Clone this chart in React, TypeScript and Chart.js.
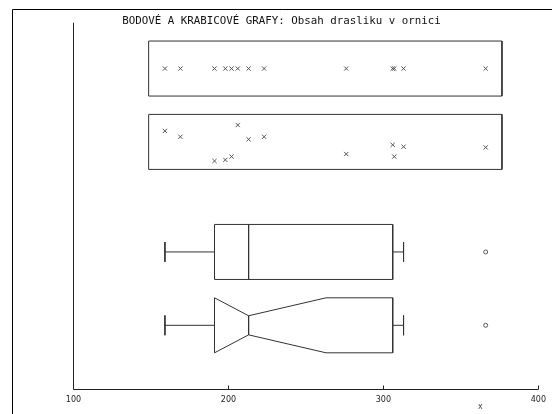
import { useEffect, useRef } from "react";
import { Chart, registerables } from "chart.js";

Chart.register(...registerables);

// ---- data ----
const TITLE = "BODOVÉ A KRABICOVÉ GRAFY: Obsah drasliku v ornici";
const AXIS_TITLE = "x";
const X_TICKS = [100, 200, 300, 400];
const potassium = [159, 169, 191, 198, 202, 206, 213, 223, 276, 306, 307, 313, 366];
const jitterY = [2.95, 3.11, 3.77, 3.74, 3.65, 2.79, 3.18, 3.11, 3.58, 3.33, 3.65, 3.38, 3.4];
const rowY = [1.25, 3.25, 6.25, 8.25];
const stripFrame = [148.5, 376.5];
// low whisker, Q1, median, Q3, high whisker
const boxStats = [159, 191, 213, 306, 313];
const outliers = [366];
// notch low (clipped at Q1), notch high
const notch = [191, 263];

const LINE = "#333333";
const MARK = "#555555";
const HALF = 0.75;
const CAP = 0.27;
const NOTCH_HALF = 0.26;

type P = [number, number];

const seg = (pts: P[]) => ({
  type: "line" as const,
  data: pts.map(([x, y]) => ({ x, y })),
  borderColor: LINE,
  borderWidth: 1,
  pointRadius: 0,
  pointHoverRadius: 0,
  fill: false,
  tension: 0,
});

const marks = (pts: P[], style: string, r: number) => ({
  type: "line" as const,
  data: pts.map(([x, y]) => ({ x, y })),
  showLine: false,
  pointStyle: style,
  pointRadius: r,
  pointHoverRadius: r,
  pointBorderColor: MARK,
  pointBackgroundColor: "rgba(0,0,0,0)",
  pointBorderWidth: 1,
  borderColor: MARK,
  backgroundColor: "rgba(0,0,0,0)",
});

const rect = (x0: number, x1: number, yc: number, h: number): P[] => [
  [x0, yc - h],
  [x1, yc - h],
  [x1, yc + h],
  [x0, yc + h],
  [x0, yc - h],
];

function boxDatasets(yc: number, notched: boolean) {
  const [lo, q1, med, q3, hi] = boxStats;
  const ds: any[] = [];
  if (notched) {
    const [nLo, nHi] = notch;
    ds.push(
      seg([
        [q1, yc - HALF],
        [nLo, yc - HALF],
        [med, yc - NOTCH_HALF],
        [nHi, yc - HALF],
        [q3, yc - HALF],
        [q3, yc + HALF],
        [nHi, yc + HALF],
        [med, yc + NOTCH_HALF],
        [nLo, yc + HALF],
        [q1, yc + HALF],
        [q1, yc - HALF],
      ])
    );
    ds.push(seg([[med, yc - NOTCH_HALF], [med, yc + NOTCH_HALF]]));
  } else {
    ds.push(seg(rect(q1, q3, yc, HALF)));
    ds.push(seg([[med, yc - HALF], [med, yc + HALF]]));
  }
  ds.push(seg([[lo, yc], [q1, yc]]));
  ds.push(seg([[q3, yc], [hi, yc]]));
  ds.push(seg([[lo, yc - CAP], [lo, yc + CAP]]));
  ds.push(seg([[hi, yc - CAP], [hi, yc + CAP]]));
  ds.push(marks(outliers.map((v) => [v, yc] as P), "circle", 2));
  return ds;
}

const decorPlugin = {
  id: "decor",
  afterDraw(chart: any) {
    const { ctx, chartArea: a, scales } = chart;
    const xs = scales.x;
    ctx.save();
    // outer frame (left + top)
    ctx.strokeStyle = "#000";
    ctx.lineWidth = 1;
    ctx.beginPath();
    ctx.moveTo(12.5, chart.height);
    ctx.lineTo(12.5, 9.5);
    ctx.lineTo(chart.width, 9.5);
    ctx.stroke();
    // axes
    ctx.strokeStyle = "#222";
    ctx.beginPath();
    ctx.moveTo(a.left, a.top);
    ctx.lineTo(a.left, a.bottom);
    ctx.lineTo(a.right, a.bottom);
    ctx.stroke();
    // inward ticks
    ctx.beginPath();
    for (const v of X_TICKS) {
      const px = Math.round(xs.getPixelForValue(v) - 0.5) + 0.5;
      ctx.moveTo(px, a.bottom);
      ctx.lineTo(px, a.bottom - 4);
    }
    ctx.stroke();
    // title
    ctx.fillStyle = "#111";
    ctx.font = "10.8px 'DejaVu Sans Mono'";
    ctx.textAlign = "center";
    ctx.textBaseline = "alphabetic";
    ctx.fillText(TITLE, 281.5, 24);
    // axis variable name
    ctx.fillStyle = "#444";
    ctx.font = "8px 'DejaVu Sans'";
    ctx.textBaseline = "middle";
    ctx.fillText(AXIS_TITLE, a.right - 58, 407);
    ctx.restore();
  },
};

export default function App() {
  const ref = useRef<HTMLCanvasElement | null>(null);

  useEffect(() => {
    if (!ref.current) return;
    const datasets: any[] = [
      seg(rect(stripFrame[0], stripFrame[1], rowY[0], HALF)),
      marks(potassium.map((v) => [v, rowY[0]] as P), "crossRot", 3),
      seg(rect(stripFrame[0], stripFrame[1], rowY[1], HALF)),
      marks(potassium.map((v, i) => [v, jitterY[i]] as P), "crossRot", 3),
      ...boxDatasets(rowY[2], false),
      ...boxDatasets(rowY[3], true),
    ];
    const chart = new Chart(ref.current, {
      type: "line",
      data: { datasets },
      options: {
        animation: false,
        responsive: false,
        events: [],
        layout: { padding: { left: 73.5, right: 11.5, top: 22.7, bottom: 0 } },
        plugins: {
          legend: { display: false },
          title: { display: false },
          tooltip: { enabled: false },
        },
        scales: {
          x: {
            type: "linear",
            min: 100,
            max: 400,
            grid: { display: false, drawTicks: false },
            border: { display: false },
            afterBuildTicks: (s: any) => {
              s.ticks = X_TICKS.map((v) => ({ value: v }));
            },
            afterFit: (s: any) => {
              s.height = 24.5;
            },
            ticks: {
              autoSkip: false,
              maxRotation: 0,
              padding: 6,
              color: "#222",
              font: { family: "'DejaVu Sans'", size: 8 },
              callback: (v: any) => String(v),
            },
          },
          y: {
            type: "linear",
            min: 0,
            max: 10,
            reverse: true,
            display: false,
          },
        },
      },
      plugins: [decorPlugin],
    } as any);
    return () => chart.destroy();
  }, []);

  return (
    <div style={{ position: "absolute", left: 0, top: 0, width: 552, height: 414, background: "#fff" }}>
      <canvas ref={ref} width={552} height={414} style={{ display: "block" }} />
    </div>
  );
}
